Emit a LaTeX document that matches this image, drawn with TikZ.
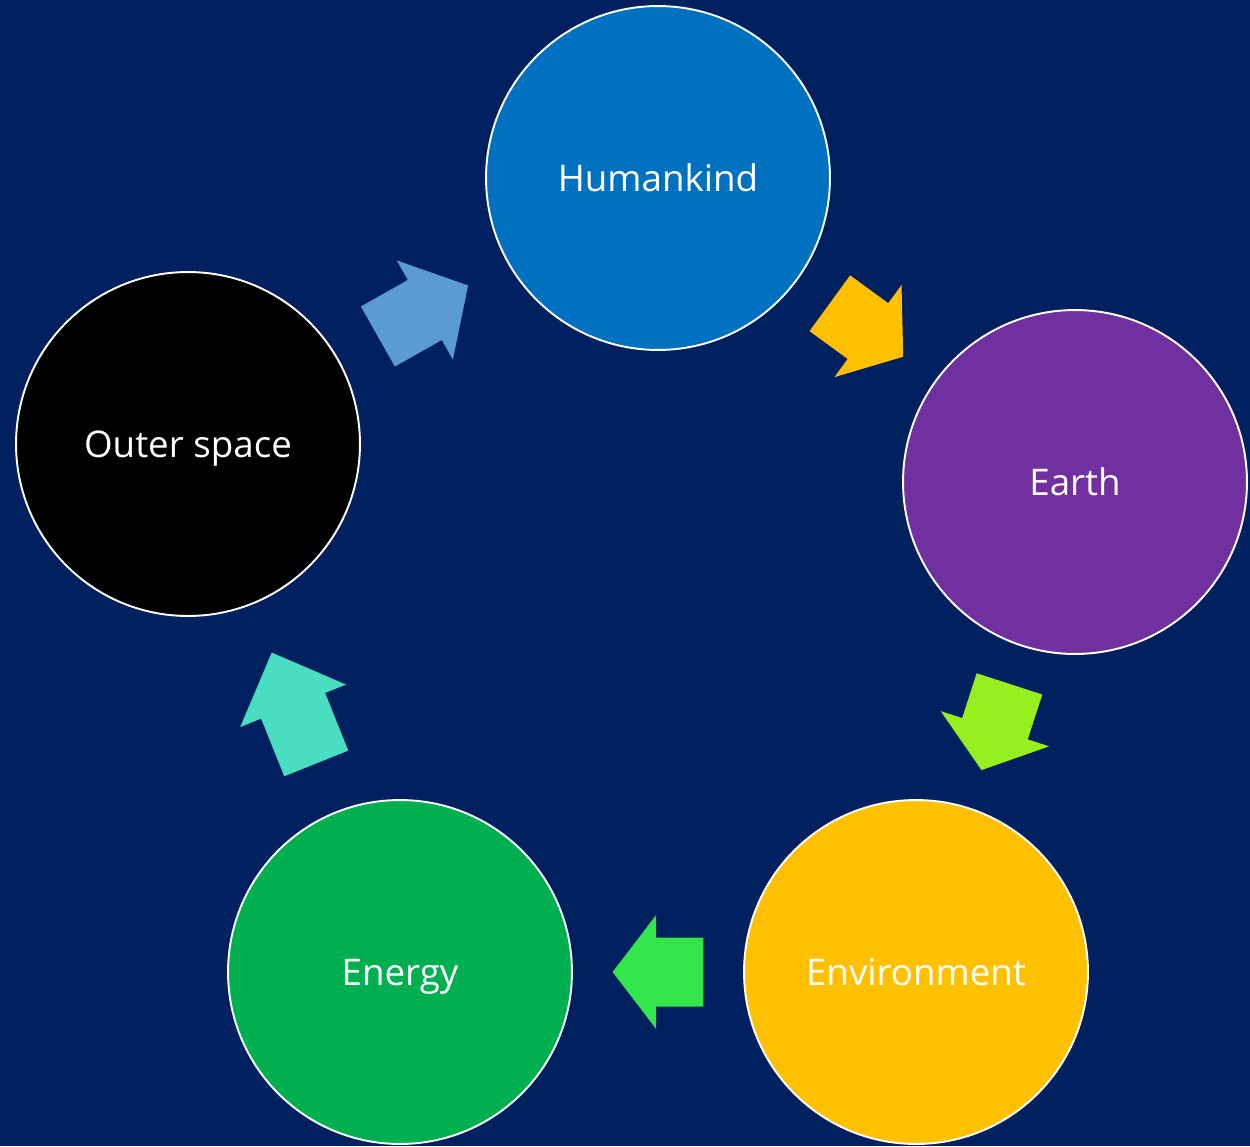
\documentclass[tikz,border=0pt]{standalone}
\usepackage{fontspec}
\setmainfont{Open Sans}
\usetikzlibrary{calc}
\definecolor{navy}{RGB}{0,32,96}
\definecolor{humanblue}{RGB}{0,112,192}
\definecolor{earthpurple}{RGB}{112,48,160}
\definecolor{environgold}{RGB}{255,192,0}
\definecolor{energygreen}{RGB}{0,176,80}
\definecolor{arrowblue}{RGB}{91,155,213}
\definecolor{arrowgold}{RGB}{255,192,0}
\definecolor{arrowlime}{RGB}{150,240,30}
\definecolor{arrowgreen}{RGB}{50,230,74}
\definecolor{arrowteal}{RGB}{74,222,192}
\begin{document}
\begin{tikzpicture}[x=0.02cm,y=-0.02cm,
    ball/.style={circle,draw=white,line width=1.1pt,minimum size=6.88cm,
                 inner sep=0pt,text=white,text height=15.9pt,text depth=0pt,
                 font=\fontsize{20.9}{24}\selectfont}]
      \fill[navy] (0,0) rectangle (1250,1146);
      \useasboundingbox (0,0) rectangle (1250,1146);

      \node[ball,fill=humanblue]   (human)   at (658,178)  {Humankind};
      \node[ball,fill=earthpurple] (earth)   at (1075,482) {Earth};
      \node[ball,fill=environgold] (environ) at (916,972)  {Environment};
      \node[ball,fill=energygreen] (energy)  at (400,972)  {Energy};
      \node[ball,fill=black]       (outer)   at (188,444)  {Outer space};

      % block arrows half way between the balls
      \foreach \a/\b/\col/\f/\g in {outer/human/arrowblue/0.404/0.596,
                                    human/earth/arrowgold/0.412/0.588,
                                    earth/environ/arrowlime/0.412/0.588,
                                    environ/energy/arrowgreen/0.412/0.588,
                                    energy/outer/arrowteal/0.395/0.605}
      {\coordinate (t) at ($(\a)!\f!(\b)$);
       \coordinate (p) at ($(\a)!\g!(\b)$);
       \coordinate (n) at ($(t)!0.52!(p)$);
       \fill[\col] ($(t)!0.69cm!90:(p)$) -- ($(n)!0.69cm!90:(p)$)
                -- ($(n)!1.14cm!90:(p)$) -- (p) -- ($(n)!1.14cm!-90:(p)$)
                -- ($(n)!0.69cm!-90:(p)$) -- ($(t)!0.69cm!-90:(p)$) -- cycle;
      };
    \end{tikzpicture}
\end{document}
